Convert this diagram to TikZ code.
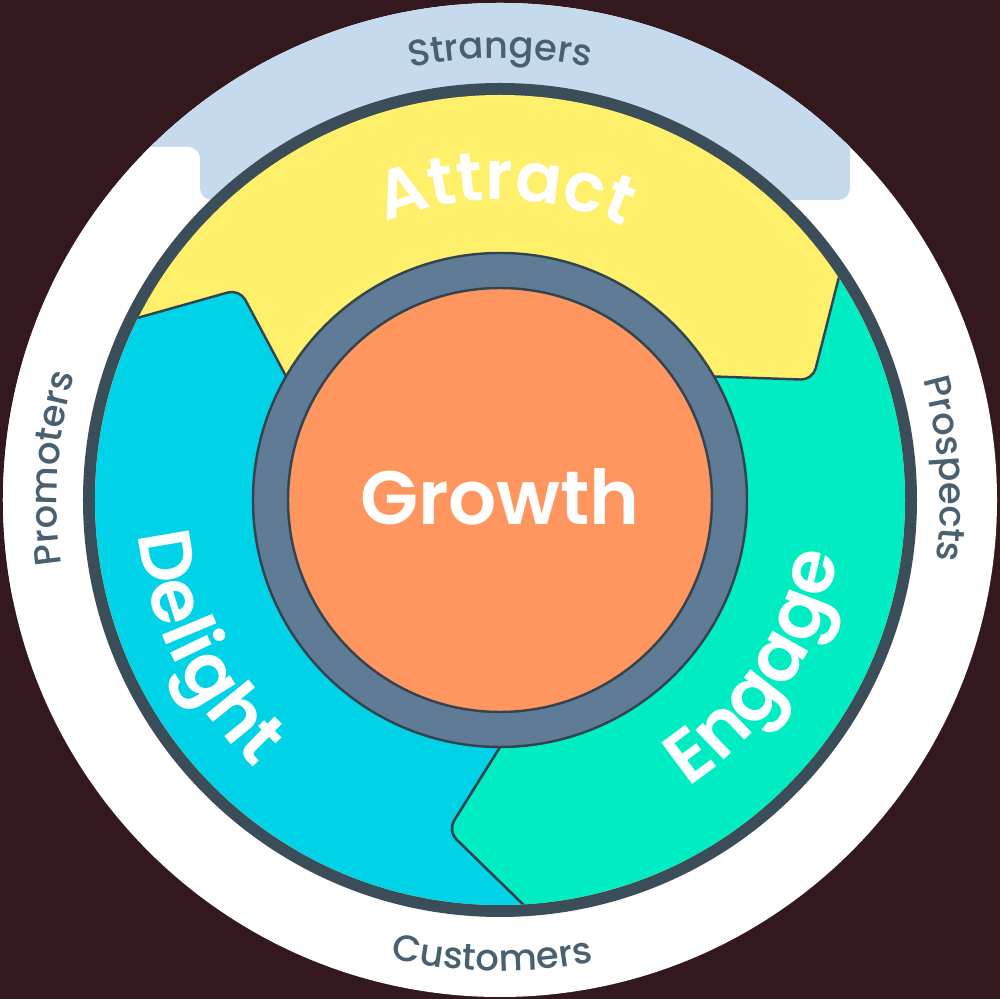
\documentclass[tikz,border=0pt]{standalone}
\usepackage{fontspec}
\setmainfont{Poppins}
\newfontfamily\outerfam{Poppins Medium}
\newfontfamily\semifam{Poppins SemiBold}
\usetikzlibrary{calc,decorations.text}
\definecolor{bgc}{HTML}{33181E}
\definecolor{bandc}{HTML}{C6DAEE}
\definecolor{ringc}{HTML}{3C4D5A}
\definecolor{yellowc}{HTML}{FFF06C}
\definecolor{tealc}{HTML}{00EDC4}
\definecolor{cyanc}{HTML}{00D2E8}
\definecolor{grayc}{HTML}{5F7B95}
\definecolor{orangec}{HTML}{FF955F}
\definecolor{labelc}{HTML}{48606F}
\definecolor{linec}{HTML}{34444F}
\newcommand{\outerfont}{\outerfam\fontsize{21pt}{21pt}\selectfont}
\newcommand{\bigfont}{\semifam\fontsize{42pt}{42pt}\selectfont}
\newcommand{\growthfont}{\semifam\fontsize{43pt}{43pt}\selectfont}
\newcommand{\attractfont}{\semifam\fontsize{39pt}{39pt}\selectfont}
\begin{document}
\begin{tikzpicture}[x=0.02cm,y=0.02cm,
  segment/.style={draw=linec, line width=1.4pt, rounded corners=0.24cm},
  outerlabel/.style={decorate, decoration={text along path, text align=center, text color=labelc, text={|\outerfont|#1}}},
  biglabel/.style={decorate, decoration={text along path, text align=center, text color=white, text={|\bigfont|#1}}}]
% background and bounding box
\fill[bgc] (-500,-499) rectangle (500,500);
\useasboundingbox (-500,-499) rectangle (500,500);
% outer white disk with the light-blue band
\fill[white] (0,0) circle[radius=497];
\begin{scope}
  \clip (0,0) circle[radius=497];
  \fill[bandc] (-600,353) rectangle (400,600);
  \fill[bandc, rounded corners=0.24cm] (-300,300) rectangle (350,600);
  \fill[bandc] (-330,330) rectangle (-300,353);
  \fill[white, rounded corners=0.24cm] (-600,-100) rectangle (-300,353);
\end{scope}
% dark ring
\fill[ringc] (0,0) circle[radius=417];
% chevron boundary points
\foreach \n/\p in {1/21, 2/261, 3/141} {
  \coordinate (m\n) at (\p:335);
  \coordinate (o\n) at ($(m\n)!3!({\p+12.5}:407)$);
  \coordinate (i\n) at ($(m\n)!3!({\p+9}:247)$);
}
\begin{scope}
  \clip (0,0) circle[radius=405];
  \fill[yellowc] (0,0) circle[radius=410];
  \filldraw[segment, fill=tealc] (o1) -- (m1) -- (i1) -- (i2) -- (m2) -- (o2) -- (-12:900) -- cycle;
  \filldraw[segment, fill=cyanc] (o2) -- (m2) -- (i2) -- (i3) -- (m3) -- (o3) -- (210:900) -- cycle;
\end{scope}
% inner rings
\filldraw[fill=grayc, draw=linec, line width=1.4pt] (0,0) circle[radius=247];
\filldraw[fill=orangec, draw=linec, line width=1.4pt] (0,0) circle[radius=212];
\node[anchor=base, text=white, font=\growthfont, inner sep=0pt] (growth) at (0,-25) {Growth};
% segment labels
\path[decorate, decoration={text along path, text align=center, text color=white, text={|\attractfont|Attract}}]
  (149:300) arc[start angle=149, end angle=29, radius=300];
\path[biglabel=Engage] (-93:343) arc[start angle=-93, end angle=27, radius=343];
\path[biglabel=Delight] (146.5:363) arc[start angle=146.5, end angle=266.5, radius=363];
% outer labels
\path[outerlabel=Strangers] (135:442) arc[start angle=135, end angle=45, radius=442];
\path[outerlabel=Prospects] (49:440) arc[start angle=49, end angle=-41, radius=440];
\path[outerlabel=Customers] (-136:471) arc[start angle=-136, end angle=-46, radius=471];
\path[outerlabel=Promoters] (221:443) arc[start angle=221, end angle=131, radius=443];
\end{tikzpicture}
\end{document}
